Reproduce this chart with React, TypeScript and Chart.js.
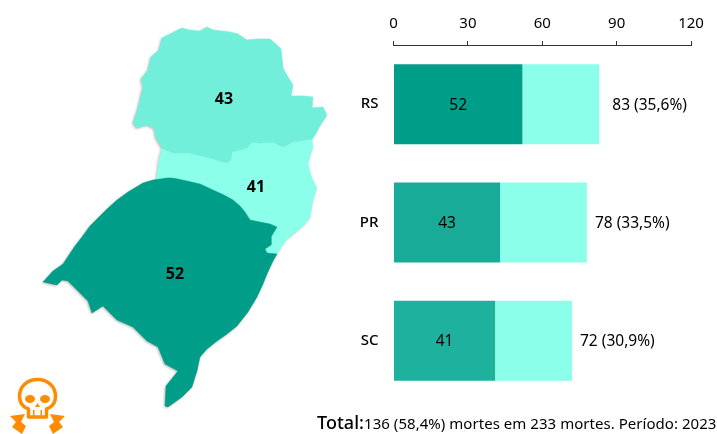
import React, { useEffect, useRef } from "react";
import { Chart, registerables } from "chart.js";

Chart.register(...registerables);

const FONT = "'Noto Sans', sans-serif";

// Bar chart data
const states = ["RS", "PR", "SC"];
const deathsGroup = [52, 43, 41];
const deathsRest = [31, 35, 31];
const totals = ["83 (35,6%)", "78 (33,5%)", "72 (30,9%)"];
const xTicks = [0, 30, 60, 90, 120];
const groupColors = ["#009e88", "#18ab98", "#1eb19d"];
const restColor = "#8cffea";

// Map outlines, traced on a 340x434 map grid
const outlinePR: [number, number][] = [
  [182, 28], [190, 30], [200, 31], [207, 27], [213, 30], [222, 31], [230, 32], [238, 34], [247, 40], [258, 39], [270, 39],
  [276, 44], [281, 49], [282, 58], [283, 68], [288, 77], [293, 85], [291, 96], [303, 96], [313, 97], [312, 108], [323, 107],
  [327, 115], [321, 124], [315, 135], [312, 139], [293, 142], [283, 147], [273, 142], [260, 143], [252, 142], [247, 148],
  [232, 152], [231, 160], [227, 163], [210, 158], [190, 153], [173, 153], [162, 148], [156, 138], [154, 128], [147, 125],
  [137, 128], [133, 123], [138, 108], [141, 95], [143, 87], [141, 79], [148, 70], [151, 57], [159, 50], [162, 38], [172, 33],
];
const outlineSC: [number, number][] = [
  [162, 148], [173, 153], [190, 153], [210, 158], [227, 163], [231, 160], [232, 152], [247, 148], [252, 142], [260, 143],
  [273, 142], [283, 147], [293, 142], [312, 139], [313, 147], [308, 163], [310, 172], [312, 178], [317, 188], [313, 200],
  [310, 218], [304, 225], [296, 232], [287, 239], [282, 246], [277, 254], [262, 262], [240, 235], [190, 195], [155, 195],
  [157, 175], [159, 160],
];
const outlineRS: [number, number][] = [
  [153, 180], [160, 179], [167, 178], [172, 178], [178, 179], [187, 181], [200, 184], [213, 190], [224, 195], [233, 200],
  [240, 206], [245, 212], [250, 220], [260, 222], [270, 224], [277, 227], [271, 237], [271, 245], [265, 249], [267, 253],
  [277, 254], [273, 261], [267, 274], [263, 284], [257, 297], [248, 312], [237, 326], [227, 334], [217, 341], [207, 349],
  [200, 357], [197, 371], [192, 387], [182, 397], [168, 407], [165, 406], [166, 386], [178, 371], [165, 364], [158, 347],
  [147, 341], [133, 327], [117, 320], [103, 306], [92, 313], [88, 301], [68, 281], [62, 280], [57, 285], [43, 282],
  [53, 271], [63, 264], [75, 246], [82, 237], [90, 226], [98, 218], [107, 209], [117, 200], [128, 192], [143, 183],
];
const mapLabels = [
  { x: 224, y: 99, text: "43" },
  { x: 256, y: 187, text: "41" },
  { x: 175, y: 274, text: "52" },
];

const toPoints = (o: [number, number][]) => o.map(([x, y]) => ({ x, y }));

function App() {
  const mapRef = useRef<HTMLCanvasElement>(null);
  const barRef = useRef<HTMLCanvasElement>(null);

  useEffect(() => {
    const region = (data: [number, number][], color: string, order: number) => ({
      type: "scatter" as const,
      data: toPoints(data.concat([data[0]])),
      showLine: true,
      fill: "shape",
      backgroundColor: color,
      borderColor: color,
      borderWidth: 0.5,
      pointRadius: 0,
      tension: 0,
      order,
    });
    const mapChart = new Chart(mapRef.current!, {
      type: "scatter",
      data: {
        datasets: [
          region(outlineRS, "#009e88", 1),
          region(outlinePR, "#72efdb", 2),
          region(outlineSC, "#8cffea", 3),
        ] as any,
      },
      options: {
        animation: false,
        responsive: false,
        layout: { padding: 0 },
        plugins: { legend: { display: false }, tooltip: { enabled: false } },
        scales: {
          x: { type: "linear", min: 0, max: 340, display: false },
          y: { type: "linear", min: 0, max: 434, reverse: true, display: false },
        },
      },
      plugins: [
        {
          id: "mapLabels",
          afterDatasetsDraw(c: any) {
            const { ctx, scales } = c;
            ctx.save();
            ctx.font = `bold 16px ${FONT}`;
            ctx.fillStyle = "#000";
            ctx.textAlign = "center";
            ctx.textBaseline = "middle";
            mapLabels.forEach((l) => ctx.fillText(l.text, scales.x.getPixelForValue(l.x), scales.y.getPixelForValue(l.y)));
            ctx.restore();
          },
        },
      ],
    });

    const barChart = new Chart(barRef.current!, {
      type: "bar",
      data: {
        labels: states,
        datasets: [
          { data: deathsGroup, backgroundColor: groupColors, stack: "a", barPercentage: 0.676, categoryPercentage: 1 },
          { data: deathsRest, backgroundColor: restColor, stack: "a", barPercentage: 0.676, categoryPercentage: 1 },
        ],
      },
      options: {
        indexAxis: "y",
        animation: false,
        responsive: false,
        layout: { padding: { left: 0, right: 26, top: 0, bottom: 34 } },
        plugins: { legend: { display: false }, tooltip: { enabled: false } },
        scales: {
          x: {
            position: "top",
            stacked: true,
            min: 0,
            max: 120,
            afterFit: (s: any) => { s.height = 45; },
            afterBuildTicks: (s: any) => { s.ticks = xTicks.map((value) => ({ value })); },
            grid: { drawOnChartArea: false, drawTicks: true, tickLength: 4, color: "#333" },
            border: { display: true, color: "#333", width: 1 },
            ticks: { color: "#000", font: { family: FONT, size: 15 }, padding: 8, maxRotation: 0 },
          },
          y: {
            stacked: true,
            afterFit: (s: any) => { s.width = 53.5; },
            grid: { display: false },
            border: { display: false },
            ticks: { color: "#000", font: { family: FONT, size: 15, weight: 500 }, padding: 7 },
          },
        },
      },
      plugins: [
        {
          id: "barLabels",
          afterDatasetsDraw(c: any) {
            const { ctx } = c;
            const inner = c.getDatasetMeta(0).data;
            const outer = c.getDatasetMeta(1).data;
            ctx.save();
            ctx.font = `15.5px ${FONT}`;
            ctx.fillStyle = "#000";
            ctx.textBaseline = "middle";
            inner.forEach((b: any, i: number) => {
              ctx.textAlign = "center";
              ctx.fillText(String(deathsGroup[i]), (b.base + b.x) / 2, b.y + 1);
              ctx.textAlign = "left";
              ctx.fillText(totals[i], outer[i].x + (i === 0 ? 13 : 8), b.y + 1);
            });
            ctx.restore();
          },
        },
      ],
    });
    return () => {
      mapChart.destroy();
      barChart.destroy();
    };
  }, []);

  return (
    <div style={{ position: "absolute", left: 0, top: 0, width: 717, height: 434, overflow: "hidden", background: "#fff" }}>
      <canvas
        ref={mapRef}
        width={340}
        height={434}
        style={{ position: "absolute", left: 0, top: 0, width: 340, height: 434, filter: "drop-shadow(-1px 1px 1px rgba(0,0,0,0.25))" }}
      />
      <canvas ref={barRef} width={377} height={434} style={{ position: "absolute", left: 340, top: 0, width: 377, height: 434 }} />
      <svg width={75} height={64} style={{ position: "absolute", left: 0, top: 370 }} viewBox="0 0 75 64">
        <g fill="#ff8c00">
          <path
            d="M37.500 9.500c-10.500 0-18 7-18 17 0 6 3 10.500 9 12.500v8h18v-8c6-2 9-6.500 9-12.500 0-10-7.500-17-18-17z"
            fill="none"
            stroke="#ff8c00"
            strokeWidth="3.500"
            strokeLinejoin="round"
          />
          <ellipse cx="30" cy="29" rx="5" ry="4" />
          <ellipse cx="45" cy="29" rx="5" ry="4" />
          <path d="M37.500 33l2.500 4h-5z" />
          <rect x="33" y="40" width="1.500" height="7" />
          <rect x="40.500" y="40" width="1.500" height="7" />
          <path d="M10 46L25 44L21 52L26 56L22 64L12 57L16 52Z" />
          <path d="M65 46L50 44L54 52L49 56L53 64L63 57L59 52Z" />
        </g>
      </svg>
      <div
        style={{
          position: "absolute",
          left: 317,
          top: 410,
          width: 400,
          whiteSpace: "nowrap",
          fontFamily: FONT,
          color: "#000",
          fontSize: 15,
          lineHeight: "24px",
          letterSpacing: 0.04,
        }}
      >
        <span style={{ fontSize: 18, fontWeight: 500 }}>Total:</span>136 (58,4%) mortes em 233 mortes. Período: 2023
      </div>
    </div>
  );
}

export default App;
